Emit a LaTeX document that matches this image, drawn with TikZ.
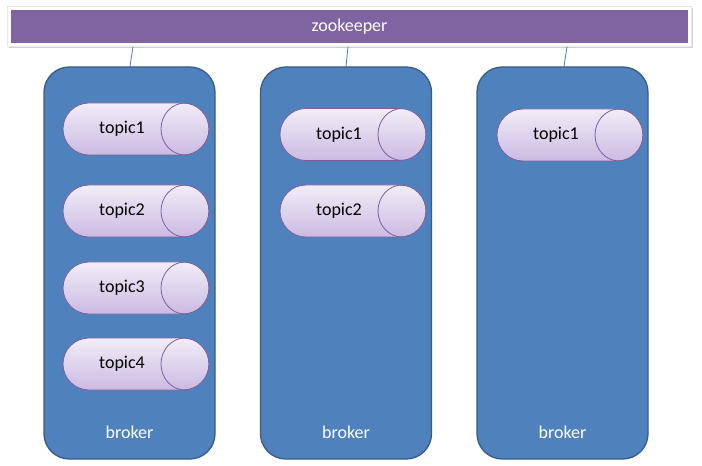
\documentclass[tikz,border=0pt]{standalone}
\usepackage{fontspec}
\setmainfont{Carlito}
\usetikzlibrary{shapes.misc,shadows,calc}
\definecolor{zkpurple}{HTML}{8064A2}
\definecolor{brfill}{HTML}{4F81BD}
\definecolor{brline}{HTML}{385D8A}
\definecolor{tptop}{HTML}{F2EDF8}
\definecolor{tpbot}{HTML}{CBBAE2}
\definecolor{tpline}{HTML}{7D5F9E}
\definecolor{linkcol}{HTML}{4A7EBB}
\tikzset{
  zkframe/.style={rectangle, fill=white, draw=black!9, line width=0.3pt,
    minimum width=513pt, minimum height=30pt, inner sep=0pt,
    drop shadow={shadow xshift=1.2pt, shadow yshift=-1.5pt, opacity=0.25, fill=black!70}},
  zkbar/.style={rectangle, fill=zkpurple, minimum width=507.75pt, minimum height=24.75pt,
    inner sep=0pt, text=white, font=\fontsize{13.5}{15}\selectfont},
  brokerbox/.style={rectangle, rounded corners=19pt, fill=brfill, draw=brline,
    line width=1pt, minimum width=128.25pt, minimum height=294pt, inner sep=0pt},
  topicbox/.style={rounded rectangle, top color=tptop, bottom color=tpbot,
    draw=tpline, line width=0.6pt, minimum width=109.5pt, minimum height=39pt,
    inner sep=0pt,
    path picture={\draw[tpline, line width=0.6pt]
      ([xshift=-18pt]path picture bounding box.east) ellipse [x radius=18pt, y radius=19.5pt];}},
  topiclabel/.style={font=\fontsize{13.5}{15}\selectfont, text=black, inner sep=0pt},
  brokerlabel/.style={font=\fontsize{13.5}{15}\selectfont, text=white, inner sep=0pt},
  link/.style={draw=linkcol, line width=0.6pt}
}
\begin{document}
\begin{tikzpicture}[x=0.75pt, y=-0.75pt]
\useasboundingbox (0,0) rectangle (702,466);
\fill[white] (0,0) rectangle (702,466);
% zookeeper
\node[zkframe] (zkf) at (349.5,26.5) {};
\node[zkbar] (zk) at (349.5,26.5) {zookeeper};
% brokers
\node[brokerbox] (b1) at (129.5,263) {};
\node[brokerbox] (b2) at (346,263) {};
\node[brokerbox] (b3) at (562.5,263) {};
\node[brokerlabel] (l1) at (129.5,432) {broker};
\node[brokerlabel] (l2) at (346,432) {broker};
\node[brokerlabel] (l3) at (562.5,432) {broker};
% connectors
\draw[link] (zkf.south -| 133,0) -- (b1.north -| 130,0);
\draw[link] (zkf.south -| 348,0) -- (b2.north -| 346,0);
\draw[link] (zkf.south -| 567,0) -- (b3.north -| 564,0);
% topics broker 1
\node[topicbox] (t11) at (136,129) {};
\node[topiclabel] at ($(t11.center)+(-14,0)$) {topic1};
\node[topicbox] (t12) at (136,211) {};
\node[topiclabel] at ($(t12.center)+(-14,0)$) {topic2};
\node[topicbox] (t13) at (136,288) {};
\node[topiclabel] at ($(t13.center)+(-14,0)$) {topic3};
\node[topicbox] (t14) at (136,364) {};
\node[topiclabel] at ($(t14.center)+(-14,0)$) {topic4};
% topics broker 2
\node[topicbox] (t21) at (353,134.5) {};
\node[topiclabel] at ($(t21.center)+(-14,0)$) {topic1};
\node[topicbox] (t22) at (353,211) {};
\node[topiclabel] at ($(t22.center)+(-14,0)$) {topic2};
% topics broker 3
\node[topicbox] (t31) at (570,135) {};
\node[topiclabel] at ($(t31.center)+(-14,0)$) {topic1};
\end{tikzpicture}
\end{document}
